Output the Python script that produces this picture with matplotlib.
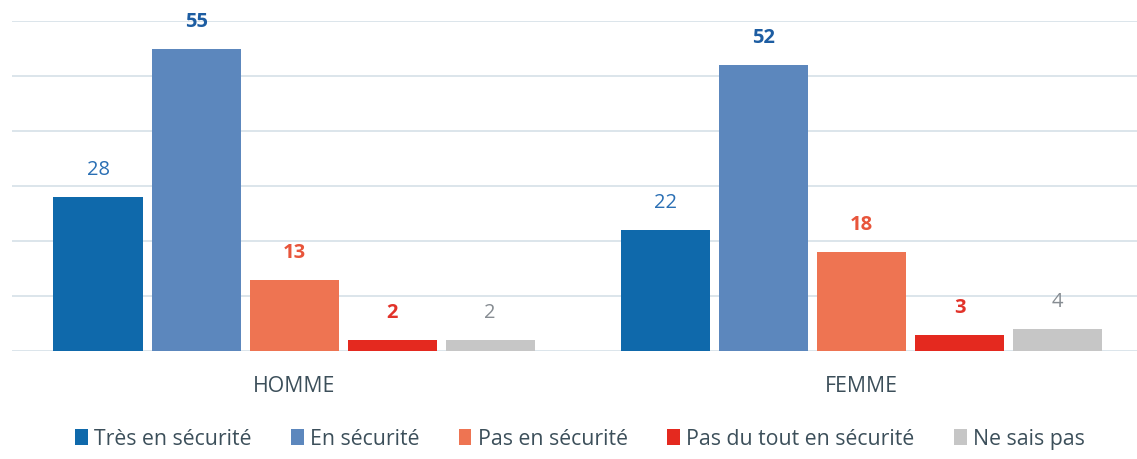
import numpy as np
import matplotlib.pyplot as plt
from matplotlib.patches import Patch

plt.rcParams['font.family'] = ['Open Sans', 'DejaVu Sans']

# =========================
# Data
# =========================
groups = ['HOMME', 'FEMME']
series = ['Très en sécurité', 'En sécurité', 'Pas en sécurité',
          'Pas du tout en sécurité', 'Ne sais pas']
values = {
    'Très en sécurité': [28, 22],
    'En sécurité': [55, 52],
    'Pas en sécurité': [13, 18],
    'Pas du tout en sécurité': [2, 3],
    'Ne sais pas': [2, 4],
}

# =========================
# Style
# =========================
bar_colors = ['#0f69ab', '#5c87bd', '#ee7452', '#e4291f', '#c6c6c6']
label_colors = ['#2a6fb4', '#1d5da2', '#e8553b', '#e2332a', '#868c92']
label_weights = ['normal', 'bold', 'bold', 'bold', 'normal']
text_color = '#3c4f5a'
grid_color = '#d6e0e8'

W, H = 1137, 460
fig = plt.figure(figsize=(W / 100, H / 100), dpi=100)
ax = fig.add_axes([12 / W, 1 - 352 / H, (W - 12) / W, (352 - 22) / H])

step = 0.1727
width = 0.157
x = np.arange(len(groups))

for i, name in enumerate(series):
    pos = x + (i - 2) * step
    bars = ax.bar(pos, values[name], width, color=bar_colors[i], zorder=3)
    for rect, v in zip(bars, values[name]):
        ax.annotate(str(v), (rect.get_x() + rect.get_width() / 2, v),
                    xytext=(0, 20), textcoords='offset points',
                    ha='center', va='center', fontsize=14.5,
                    color=label_colors[i], fontweight=label_weights[i],
                    annotation_clip=False)

ax.set_xlim(-0.497, 1.485)
ax.set_ylim(0, 60)
ax.set_yticks(np.arange(0, 61, 10))
ax.set_yticklabels([])
ax.grid(axis='y', color=grid_color, linewidth=1.2, zorder=0)
ax.set_xticks(x)
ax.set_xticklabels(groups, fontsize=15.3, color=text_color)
ax.tick_params(axis='both', length=0)
ax.tick_params(axis='x', pad=17)
for s in ax.spines.values():
    s.set_visible(False)

handles = [Patch(facecolor=c, edgecolor='none') for c in bar_colors]
fig.legend(handles, series, loc='center', bbox_to_anchor=(0.51, 1 - 440 / H),
           ncol=5, frameon=False, fontsize=15.3, labelcolor=text_color,
           handlelength=0.6, handleheight=0.75, handletextpad=0.3,
           columnspacing=1.85)

fig.savefig('out.png', dpi=100)
